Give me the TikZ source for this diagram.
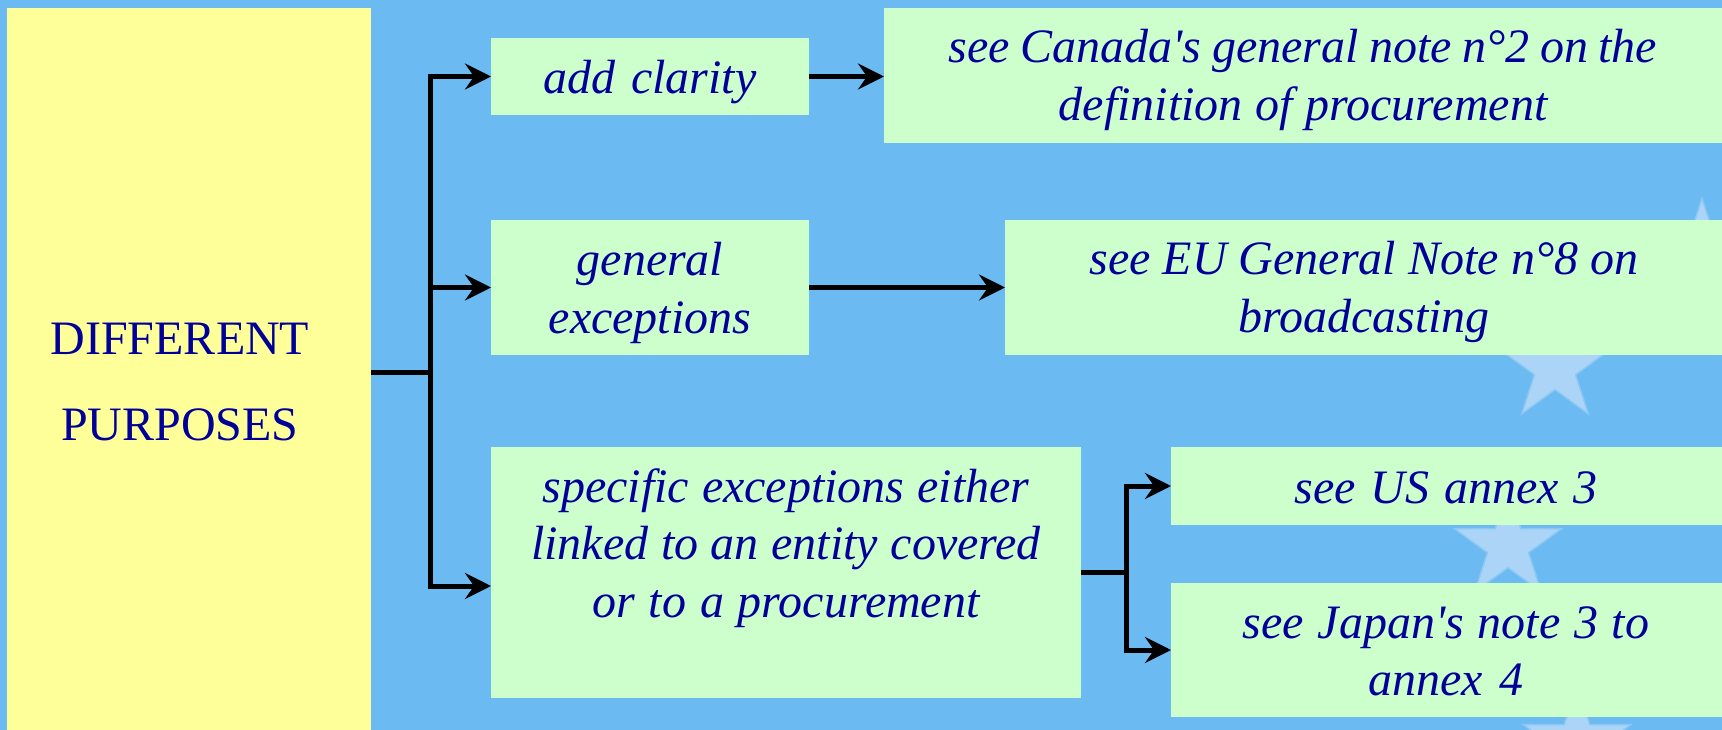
\documentclass[tikz,border=0pt]{standalone}
\usepackage{fontspec}
\setmainfont{Liberation Serif}[Ligatures=TeXOff]
\usetikzlibrary{arrows.meta,shapes.geometric}
\definecolor{bg}{RGB}{107,187,242}
\definecolor{yel}{RGB}{255,255,153}
\definecolor{grn}{RGB}{204,255,204}
\definecolor{txt}{RGB}{0,0,153}
\definecolor{starc}{RGB}{172,212,246}
\definecolor{starh}{RGB}{140,200,244}
\newcommand\tightwordsp{\spaceskip=8.5pt plus 2pt minus 1pt\relax\fontdimen2\font=8.5pt\relax}
\begin{document}
\begin{tikzpicture}[x=1pt,y=-1pt,
  box/.style={draw=none, fill=grn, inner sep=0pt, outer sep=0pt, anchor=north west},
  lbl/.style={text=txt, font=\fontsize{48}{57.5}\selectfont\itshape, align=center, text width=900pt, anchor=base, inner sep=0pt, execute at begin node=\tightwordsp},
  arr/.style={line width=5pt, -{Stealth[length=26pt,width=26pt,inset=9pt]}},
  ln/.style={line width=5pt},
  estar/.style={star, star points=5, star point ratio=2.618, fill=starc, draw=none, inner sep=0pt, minimum size=108pt},
  ehalo/.style={star, star points=5, star point ratio=2.618, fill=starh, draw=none, inner sep=0pt, minimum size=118pt}]
\useasboundingbox (0,0) rectangle (1722,730);
\clip (0,0) rectangle (1722,730);
\fill[bg] (0,0) rectangle (1722,730);
% faint EU stars
\node[ehalo] (h1) at (1702,255) {};
\node[ehalo] (h2) at (1555,368) {};
\node[ehalo] (h3) at (1508,546) {};
\node[ehalo] (h4) at (1577,742) {};
\node[estar] (s1) at (1702,255) {};
\node[estar] (s2) at (1555,368) {};
\node[estar] (s3) at (1508,546) {};
\node[estar] (s4) at (1577,742) {};
% boxes
\node[fill=yel, inner sep=0pt, outer sep=0pt, anchor=north west, minimum width=364pt, minimum height=722pt] (yel) at (7,8) {};
\node[box, minimum width=318pt, minimum height=77pt] (b1) at (491,38) {};
\node[box, minimum width=838pt, minimum height=135pt] (can) at (884,8) {};
\node[box, minimum width=318pt, minimum height=135pt] (b2) at (491,220) {};
\node[box, minimum width=717pt, minimum height=135pt] (eu) at (1005,220) {};
\node[box, minimum width=590pt, minimum height=251pt] (b3) at (491,447) {};
\node[box, minimum width=551pt, minimum height=78pt] (us) at (1171,447) {};
\node[box, minimum width=551pt, minimum height=134pt] (jp) at (1171,583) {};
% connectors
\coordinate (f1) at (430,372);
\draw[ln] (f1 -| yel.east) -- (f1);
\draw[arr] (f1) |- (b1);
\draw[arr] (f1) |- (b2);
\draw[arr] (f1) |- ([yshift=-13.5pt]b3.west);
\draw[arr] (b1.east) -- (b1.east -| can.west);
\draw[arr] (b2.east) -- (b2.east -| eu.west);
\coordinate (f2) at ([xshift=45pt]b3.east);
\draw[ln] (b3.east) -- (f2);
\draw[arr] (f2) |- (us);
\draw[arr] (f2) |- (jp);
% texts
\node[lbl, font=\fontsize{48}{86}\selectfont\upshape] (t0) at (180,354) {DIFFERENT\\PURPOSES};
\node[lbl] (t1) at (650,94) {add clarity};
\node[lbl] (t2) at (1303,63) {see Canada's general note n°2 on the\\definition of procurement};
\node[lbl] (t3) at (650,276) {general\\exceptions};
\node[lbl] (t4) at (1364,275) {see EU General Note n°8 on\\broadcasting};
\node[lbl] (t5) at (786,502) {specific exceptions either\\linked to an entity covered\\or to a procurement};
\node[lbl] (t6) at (1446,503) {see US annex 3};
\node[lbl] (t7) at (1446,638) {see Japan's note 3 to\\annex 4};
\end{tikzpicture}
\end{document}
